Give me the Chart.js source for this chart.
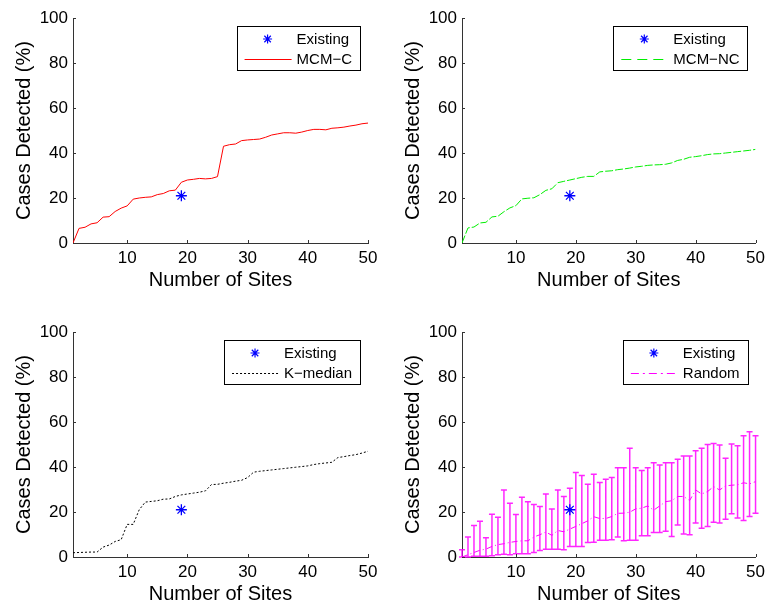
<!DOCTYPE html>
<html><head><meta charset="utf-8">
<script src="https://cdn.jsdelivr.net/npm/chart.js@4/dist/chart.umd.min.js"></script>
<style>
html,body{margin:0;padding:0;background:#fff;}
#wrap{position:relative;width:770px;height:606px;overflow:hidden;background:#fff;}
canvas{position:absolute;}
</style></head><body><div id="wrap">
<canvas id="c1" width="385" height="300" style="left:0;top:0"></canvas>
<canvas id="c2" width="385" height="300" style="left:385px;top:0"></canvas>
<canvas id="c3" width="385" height="303" style="left:0;top:303px"></canvas>
<canvas id="c4" width="385" height="303" style="left:385px;top:303px"></canvas>
</div>
<script>
// ---- data ----
const sites = [1,2,3,4,5,6,7,8,9,10,11,12,13,14,15,16,17,18,19,20,21,22,23,24,25,26,27,28,29,30,31,32,33,34,35,36,37,38,39,40,41,42,43,44,45,46,47,48,49,50];
const mcmC = [0,6.5,7.0,8.5,9.0,11.5,11.7,14.0,15.5,16.5,19.5,20.0,20.3,20.5,21.5,22.0,23.2,23.5,27.0,28.0,28.3,28.7,28.5,28.7,29.5,43.0,43.7,44.0,45.5,45.8,46.0,46.2,47.0,48.0,48.5,49.0,49.0,48.8,49.3,50.0,50.5,50.5,50.3,51.0,51.2,51.5,52.0,52.4,53.0,53.3];
const mcmNC = [0,6.7,7.1,8.9,9.2,11.6,11.9,13.9,15.6,16.6,19.6,19.9,20.1,21.5,23.4,24.1,26.8,27.4,28.0,28.6,29.2,29.6,29.6,31.6,31.9,32.1,32.6,32.9,33.3,33.8,34.1,34.5,34.7,34.8,35.0,35.6,36.7,37.2,38.1,38.4,38.8,39.3,39.6,39.7,40.0,40.3,40.6,40.9,41.2,41.6];
const kMedian = [1.9,2.0,2.1,2.2,2.2,4.4,5.3,6.9,7.7,14.5,14.5,21.0,24.4,24.7,25.0,25.7,25.8,26.9,27.6,28.0,28.4,28.8,29.4,32.2,32.3,32.8,33.2,33.7,34.1,35.3,37.7,38.1,38.4,38.7,39.0,39.3,39.6,39.9,40.2,40.5,41.1,41.5,41.8,42.1,44.2,44.6,45.1,45.5,46.2,47.0];
const randomMean = [0,1,2,3,3.5,4.7,5.5,5.9,6.5,6.9,7.2,7.2,8.9,9.9,11.1,9.6,11.8,11.2,12.4,13.6,14.8,16.1,17.9,17.1,17.1,18.0,19.4,19.5,19.9,21.4,21.7,22.7,20.8,22.7,24.6,25.0,26.9,26.9,25.1,29.8,28.0,29.1,31.3,29.8,31.6,31.9,32.1,33.0,32.5,33.5];
const randomUpper = [3.2,8.9,14.0,15.9,8.6,19.0,17.7,29.8,23.9,18.9,26.6,24.6,23.3,22.4,28.0,21.3,29.8,26.9,30.6,37.6,36.2,32.3,36.8,33.1,34.6,35.3,39.7,39.7,48.3,39.7,38.4,39.7,41.9,40.9,41.9,41.9,43.4,44.9,44.9,47.2,48.3,50.0,50.5,49.8,43.9,50.2,49.5,53.9,55.7,53.9];
const randomLower = [0,0,0.3,0.3,0.3,0.6,1.0,1.2,1.0,1.5,1.5,1.5,2.0,2.9,3.5,3.5,3.5,3.2,4.7,4.7,4.7,6.5,6.6,7.4,7.4,7.7,8.9,7.2,7.4,7.4,9.4,9.4,10.9,10.9,11.4,9.1,14.2,10.2,9.9,15.1,12.8,13.6,15.5,15.1,16.8,19.2,17.3,16.2,18.0,19.5];
const existingSites = [19];
const existingCases = [21];
const xTicks = [10,20,30,40,50];
const yTicks = [0,20,40,60,80,100];

const FONT = '"Liberation Sans", Arial, Helvetica, sans-serif';
const pts = (xs, ys) => xs.map((x, i) => ({x: x, y: ys[i]}));

// inward ticks
const inwardTicks = {
  id: 'inwardTicks',
  afterDatasetsDraw(chart) {
    const {ctx, scales: {x, y}} = chart;
    ctx.save();
    ctx.strokeStyle = '#333'; ctx.lineWidth = 1;
    ctx.beginPath();
    xTicks.forEach(v => { const px = Math.round(x.getPixelForValue(v)) + 0.5; ctx.moveTo(px, y.bottom); ctx.lineTo(px, y.bottom - 3); });
    yTicks.forEach(v => { const py = Math.round(y.getPixelForValue(v)) + 0.5; ctx.moveTo(x.left, py); ctx.lineTo(x.left + 3, py); });
    ctx.stroke();
    ctx.restore();
  }
};

// error bars
const errorBars = {
  id: 'errorBars',
  beforeDatasetsDraw(chart, args, opts) {
    if (!opts || !opts.upper) return;
    const {ctx, scales: {x, y}} = chart;
    ctx.save();
    ctx.strokeStyle = opts.color; ctx.lineWidth = 1.5;
    ctx.beginPath();
    opts.xs.forEach((v, i) => {
      const px = x.getPixelForValue(v);
      const pu = y.getPixelForValue(opts.upper[i]);
      const pl = y.getPixelForValue(opts.lower[i]);
      ctx.moveTo(px, pu); ctx.lineTo(px, pl);
      ctx.moveTo(px - 3, pu); ctx.lineTo(px + 3, pu);
      ctx.moveTo(px - 3, pl); ctx.lineTo(px + 3, pl);
    });
    ctx.stroke();
    ctx.restore();
  }
};

// boxed legend in the top right of the plot
const boxLegend = {
  id: 'boxLegend',
  afterDraw(chart, args, opts) {
    if (!opts || !opts.items) return;
    const ctx = chart.ctx, ca = chart.chartArea;
    ctx.save();
    ctx.font = '15px ' + FONT;
    const tw = Math.max(...opts.items.map(it => ctx.measureText(it.label).width));
    const w = 8 + 47 + 5 + tw + 8, h = 44;
    const right = ca.right - 8, top = ca.top + 8, left = right - w;
    ctx.fillStyle = '#fff'; ctx.fillRect(left, top, w, h);
    ctx.strokeStyle = '#000'; ctx.lineWidth = 1;
    ctx.strokeRect(Math.round(left) + 0.5, top + 0.5, Math.round(w), h);
    opts.items.forEach((it, i) => {
      const cy = top + 13 + i * 20;
      const lx = left + 8;
      if (it.type === 'star') {
        const cx = lx + 23, r = 4.5;
        ctx.strokeStyle = it.color; ctx.lineWidth = 1.2; ctx.setLineDash([]);
        ctx.beginPath();
        ctx.moveTo(cx - r, cy); ctx.lineTo(cx + r, cy);
        ctx.moveTo(cx, cy - r); ctx.lineTo(cx, cy + r);
        const d = r * 0.72;
        ctx.moveTo(cx - d, cy - d); ctx.lineTo(cx + d, cy + d);
        ctx.moveTo(cx - d, cy + d); ctx.lineTo(cx + d, cy - d);
        ctx.stroke();
      } else {
        ctx.strokeStyle = it.color; ctx.lineWidth = 1; ctx.setLineDash(it.dash || []);
        ctx.beginPath(); ctx.moveTo(lx, cy + 0.5); ctx.lineTo(lx + 47, cy + 0.5); ctx.stroke();
        ctx.setLineDash([]);
      }
      ctx.fillStyle = '#000'; ctx.textBaseline = 'middle'; ctx.textAlign = 'left';
      ctx.fillText(it.label, lx + 52, cy + 1);
    });
    ctx.restore();
  }
};

function makePanel(id, o) {
  const datasets = [
    {type: 'line', label: o.label, data: pts(sites, o.values), borderColor: o.color, borderWidth: o.width || 1,
     borderDash: o.dash || [], pointRadius: 0, tension: 0, fill: false, order: 2},
    {type: 'scatter', label: 'Existing', data: pts(existingSites, existingCases), borderColor: '#0000ff',
     backgroundColor: '#0000ff', pointStyle: 'star', pointRadius: 5.5, borderWidth: 1.3, order: 1}
  ];
  new Chart(document.getElementById(id), {
    data: {datasets},
    plugins: [errorBars, inwardTicks, boxLegend],
    options: {
      responsive: false, animation: false, devicePixelRatio: 1,
      layout: {padding: {top: o.top, right: o.right, left: 0, bottom: 0}},
      plugins: {
        legend: {display: false}, tooltip: {enabled: false},
        boxLegend: {items: [{type: 'star', color: '#0000ff', label: 'Existing'}, {type: 'line', color: o.color, dash: o.legendDash, label: o.label}]},
        errorBars: o.err || {}
      },
      scales: {
        x: {type: 'linear', min: 1, max: 50,
            afterBuildTicks: s => { s.ticks = xTicks.map(v => ({value: v})); },
            afterFit: s => { s.height = o.xH; },
            grid: {display: true, drawOnChartArea: false, drawTicks: false},
            border: {display: true, color: '#333', width: 1},
            ticks: {color: '#000', font: {family: FONT, size: 17}, padding: 5, maxRotation: 0},
            title: {display: true, text: 'Number of Sites', color: '#000', font: {family: FONT, size: 20, lineHeight: 1.2}, padding: {top: 0, bottom: o.xTitlePad}}},
        y: {type: 'linear', min: 0, max: 100,
            afterBuildTicks: s => { s.ticks = yTicks.map(v => ({value: v})); },
            afterFit: s => { s.width = o.yW; },
            grid: {display: true, drawOnChartArea: false, drawTicks: false},
            border: {display: true, color: '#333', width: 1},
            ticks: {color: '#000', font: {family: FONT, size: 17}, padding: 5},
            title: {display: true, text: 'Cases Detected (%)', color: '#000', font: {family: FONT, size: 20, lineHeight: 1.2}, padding: {top: o.yTitlePad, bottom: 0}}}
      }
    }
  });
}

makePanel('c1', {label: 'MCM\u2212C', values: mcmC, color: '#ff0000', legendDash: [], top: 18, right: 17, yW: 73, xH: 57, xTitlePad: 8, yTitlePad: 12});
makePanel('c2', {label: 'MCM\u2212NC', values: mcmNC, color: '#00ee00', dash: [8, 2], legendDash: [10, 6], top: 18, right: 13, yW: 77, xH: 57, xTitlePad: 8, yTitlePad: 16});
makePanel('c3', {label: 'K\u2212median', values: kMedian, color: '#000000', dash: [2, 2], legendDash: [2, 2], top: 29, right: 17, yW: 73, xH: 49, xTitlePad: 0, yTitlePad: 12});
makePanel('c4', {label: 'Random', values: randomMean, color: '#ff00ff', dash: [6, 3, 1, 3], legendDash: [8, 4, 2, 4], top: 29, right: 13, yW: 77, xH: 49, xTitlePad: 0, yTitlePad: 16,
  err: {xs: sites, upper: randomUpper, lower: randomLower, color: 'rgba(255,0,255,0.85)'}});
</script>
</body></html>
